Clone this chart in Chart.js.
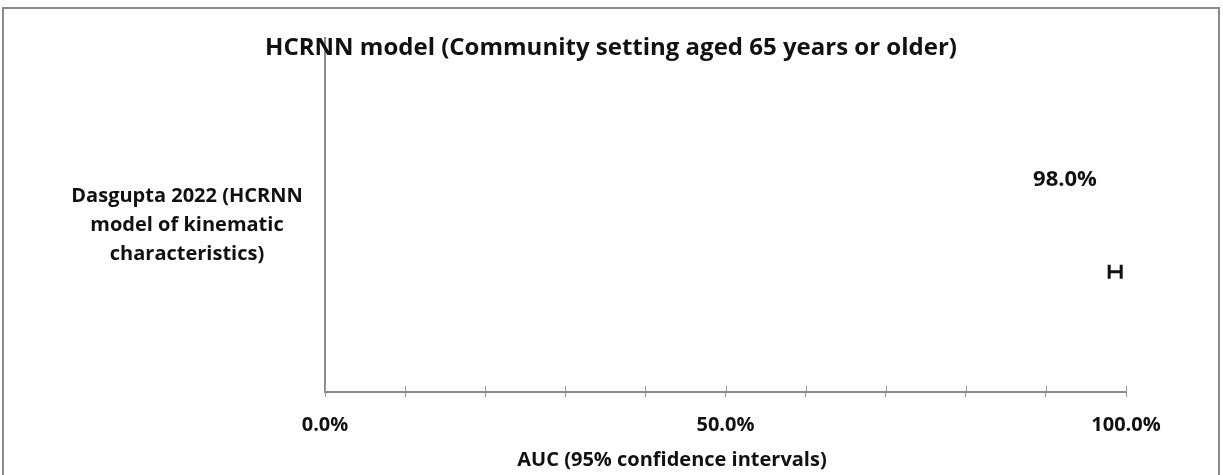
<!DOCTYPE html>
<html><head><meta charset="utf-8">
<script src="https://cdn.jsdelivr.net/npm/chart.js@4"></script>
<style>html,body{margin:0;padding:0;background:#fff}#wrap{width:1223px;height:475px;position:relative}</style>
</head><body><div id="wrap"><canvas id="c" width="1223" height="475"></canvas></div>
<script>
const titleText = "HCRNN model (Community setting aged 65 years or older)";
const studyLabel = ["Dasgupta 2022 (HCRNN", "model of kinematic", "characteristics)"];
const aucValues = [0.98];
const ciLower = [0.979];
const ciUpper = [0.994];
const rowPos = [0.34];
const tickLabels = {0: "0.0%", 0.5: "50.0%", 1: "100.0%"};
const axisTitle = "AUC (95% confidence intervals)";

const FONT = "'Open Sans', Lato, sans-serif";

const deco = {
  id: 'deco',
  beforeDraw(chart) {
    const ctx = chart.ctx;
    ctx.save();
    ctx.fillStyle = '#fff';
    ctx.fillRect(0, 0, chart.width, chart.height);
    ctx.strokeStyle = '#8a8a8a';
    ctx.lineWidth = 2;
    ctx.strokeRect(3, 8, 1216, 480);
    ctx.restore();
  },
  afterDraw(chart) {
    const ctx = chart.ctx;
    const xs = chart.scales.x, ys = chart.scales.y;
    ctx.save();
    ctx.strokeStyle = '#9a9a9a';
    ctx.lineWidth = 1;
    const yb = chart.chartArea.bottom;
    for (let i = 0; i <= 10; i++) {
      const px = Math.round(xs.getPixelForValue(i / 10)) + 0.5;
      ctx.beginPath();
      ctx.moveTo(px, yb - 6);
      ctx.lineTo(px, yb);
      ctx.stroke();
    }
    ctx.fillStyle = '#111';
    ctx.textAlign = 'center';
    ctx.textBaseline = 'middle';
    ctx.font = "bold 24px " + FONT;
    ctx.fillText(titleText, 611, 48);
    ctx.font = "bold 20px " + FONT;
    studyLabel.forEach((l, i) => ctx.fillText(l, 187, 196 + i * 29));
    ctx.fillText(axisTitle, 672, 460);
    ctx.strokeStyle = '#111';
    ctx.lineWidth = 3;
    aucValues.forEach((v, i) => {
      const y = ys.getPixelForValue(rowPos[i]);
      const x1 = xs.getPixelForValue(ciLower[i]);
      const x2 = xs.getPixelForValue(ciUpper[i]);
      ctx.beginPath();
      ctx.moveTo(x1, y); ctx.lineTo(x2, y);
      ctx.moveTo(x1, y - 7); ctx.lineTo(x1, y + 7);
      ctx.moveTo(x2, y - 7); ctx.lineTo(x2, y + 7);
      ctx.stroke();
      const px = xs.getPixelForValue(v);
      ctx.font = "bold 22px " + FONT;
      ctx.fillText((v * 100).toFixed(1) + '%', px - 45, y - 92);
    });
    ctx.restore();
  }
};

new Chart(document.getElementById('c'), {
  type: 'scatter',
  data: {
    datasets: [{
      data: aucValues.map((v, i) => ({x: v, y: rowPos[i]})),
      pointRadius: 0,
      pointHoverRadius: 0,
      showLine: false
    }]
  },
  options: {
    responsive: false,
    animation: false,
    events: [],
    layout: {padding: {left: 325, right: 97, top: 38, bottom: 0}},
    plugins: {legend: {display: false}, tooltip: {enabled: false}, title: {display: false}},
    scales: {
      x: {
        type: 'linear', min: 0, max: 1,
        afterFit(s) { s.height = 83; },
        ticks: {
          stepSize: 0.1, autoSkip: false, maxRotation: 0,
          color: '#111', font: {family: FONT, size: 20, weight: 'bold'}, padding: 16,
          callback: (v) => tickLabels[Math.round(v * 10) / 10] || ''
        },
        grid: {display: true, drawOnChartArea: false, drawTicks: true, tickLength: 5, color: '#9a9a9a'},
        border: {display: true, color: '#8a8a8a', width: 2}
      },
      y: {
        type: 'linear', min: 0, max: 1,
        afterFit(s) { s.width = 0; },
        ticks: {display: false},
        grid: {display: false, drawTicks: false},
        border: {display: true, color: '#8a8a8a', width: 2}
      }
    }
  },
  plugins: [deco]
});
</script></body></html>
